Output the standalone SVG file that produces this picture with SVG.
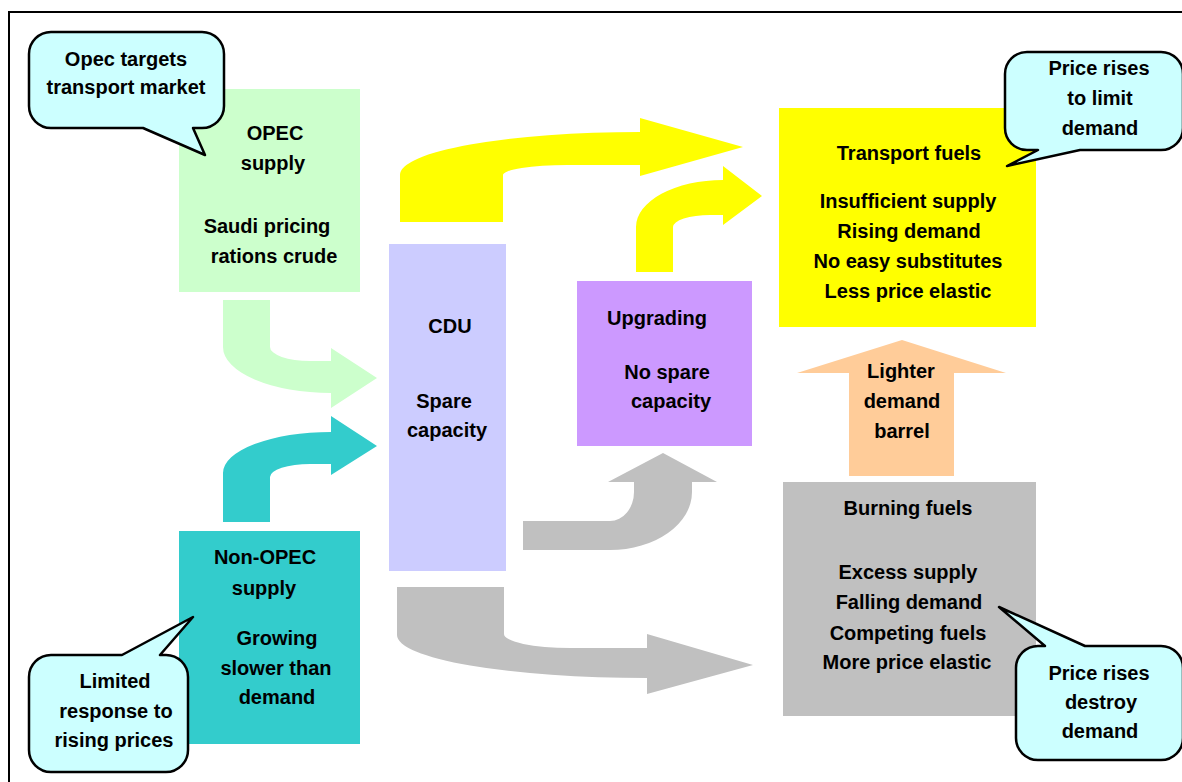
<svg xmlns="http://www.w3.org/2000/svg" width="1182" height="782" viewBox="0 0 1182 782">
<style>
text{font-family:"Liberation Sans",Arial,sans-serif;font-weight:bold;font-size:20px;fill:#000;text-anchor:middle}
.callout{fill:#CCFFFF;stroke:#000;stroke-width:2.5;stroke-linejoin:round}
</style>
<rect width="1182" height="782" fill="#fff"/>
<rect x="9" y="12" width="1200" height="800" fill="none" stroke="#000" stroke-width="2"/>
<g id="connectors">
<path d="M223,300 H270 V347 A40,14 0 0 0 310,361 H331 V348 L377,378 L331,408 V393 A108,46 0 0 1 223,347 Z" fill="#CCFFCC"/>
<path d="M223,522 V473 A108,41 0 0 1 331,432 V416 L377,446 L331,475 V464 H310 A40,13 0 0 0 270,477 V522 Z" fill="#33CCCC"/>
<path d="M400,222 V175 A240,43 0 0 1 640,132 V118 L743,147 L640,176 V165 H567 A64,10 0 0 0 503,175 V222 Z" fill="#FFFF00"/>
<path d="M636,272 V227 A87,47 0 0 1 723,180 V166 L762,196 L723,225 V215 H710 A37,12 0 0 0 673,227 V272 Z" fill="#FFFF00"/>
<path d="M523,521 H610 A24,29 0 0 0 634,492 V482 H608 L663,453 L717,482 H692 V492 A82,58 0 0 1 610,550 H523 Z" fill="#C0C0C0"/>
<path d="M397,587 H504 V634 A66,14 0 0 0 570,648 H647 V634 L753,665 L647,694 V678 A250,43 0 0 1 397,635 Z" fill="#C0C0C0"/>
<g id="lighter">
<path d="M849,476 V373 H797 L902,340 L1006,373 H954 V476 Z" fill="#FFCC99"/>
<text x="901" y="378">Lighter</text>
<text x="902" y="408">demand</text>
<text x="902" y="438">barrel</text>
</g>
</g>
<g id="opec">
<rect x="179" y="89" width="181" height="203" fill="#CCFFCC"/>
<text x="275" y="140">OPEC</text>
<text x="273" y="170">supply</text>
<text x="267" y="233">Saudi pricing</text>
<text x="274" y="263">rations crude</text>
</g>
<g id="nonopec">
<rect x="179" y="531" width="181" height="213" fill="#33CCCC"/>
<text x="265" y="564">Non-OPEC</text>
<text x="264" y="595">supply</text>
<text x="277" y="645">Growing</text>
<text x="276" y="675">slower than</text>
<text x="277" y="704">demand</text>
</g>
<g id="cdu">
<rect x="389" y="244" width="117" height="327" fill="#CCCCFF"/>
<text x="450" y="333">CDU</text>
<text x="444" y="408">Spare</text>
<text x="447" y="437">capacity</text>
</g>
<g id="upgrading">
<rect x="577" y="281" width="175" height="165" fill="#CC99FF"/>
<text x="657" y="325">Upgrading</text>
<text x="667" y="379">No spare</text>
<text x="671" y="408">capacity</text>
</g>
<g id="transport">
<rect x="779" y="108" width="257" height="219" fill="#FFFF00"/>
<text x="909" y="160">Transport fuels</text>
<text x="908" y="208">Insufficient supply</text>
<text x="909" y="238">Rising demand</text>
<text x="908" y="268">No easy substitutes</text>
<text x="908" y="298">Less price elastic</text>
</g>
<g id="burning">
<rect x="783" y="482" width="253" height="234" fill="#C0C0C0"/>
<text x="908" y="515">Burning fuels</text>
<text x="908" y="579">Excess supply</text>
<text x="909" y="609">Falling demand</text>
<text x="908" y="640">Competing fuels</text>
<text x="907" y="669">More price elastic</text>
</g>
<g id="callout-opec">
<path class="callout" d="M51,32 H202 A22,22 0 0 1 224,54 V106 A22,22 0 0 1 202,128 H193 L205,155 L143,128 H51 A22,22 0 0 1 29,106 V54 A22,22 0 0 1 51,32 Z"/>
<text x="126" y="66">Opec targets</text>
<text x="126" y="94">transport market</text>
</g>
<g id="callout-limit">
<path class="callout" d="M1027,52 H1161 A22,22 0 0 1 1183,74 V128 A22,22 0 0 1 1161,150 H1080 L1007,166 L1038,150 H1027 A22,22 0 0 1 1005,128 V74 A22,22 0 0 1 1027,52 Z"/>
<text x="1099" y="75">Price rises</text>
<text x="1100" y="105">to limit</text>
<text x="1100" y="135">demand</text>
</g>
<g id="callout-destroy">
<path class="callout" d="M1038,646 H1045 L999,607 L1085,646 H1161 A22,22 0 0 1 1183,668 V738 A22,22 0 0 1 1161,760 H1038 A22,22 0 0 1 1016,738 V668 A22,22 0 0 1 1038,646 Z"/>
<text x="1099" y="680">Price rises</text>
<text x="1101" y="709">destroy</text>
<text x="1100" y="738">demand</text>
</g>
<g id="callout-response">
<path class="callout" d="M51,655 H122 L193,617 L160,655 H166 A22,22 0 0 1 188,677 V750 A22,22 0 0 1 166,772 H51 A22,22 0 0 1 29,750 V677 A22,22 0 0 1 51,655 Z"/>
<text x="115" y="688">Limited</text>
<text x="116" y="718">response to</text>
<text x="114" y="747">rising prices</text>
</g>
</svg>
